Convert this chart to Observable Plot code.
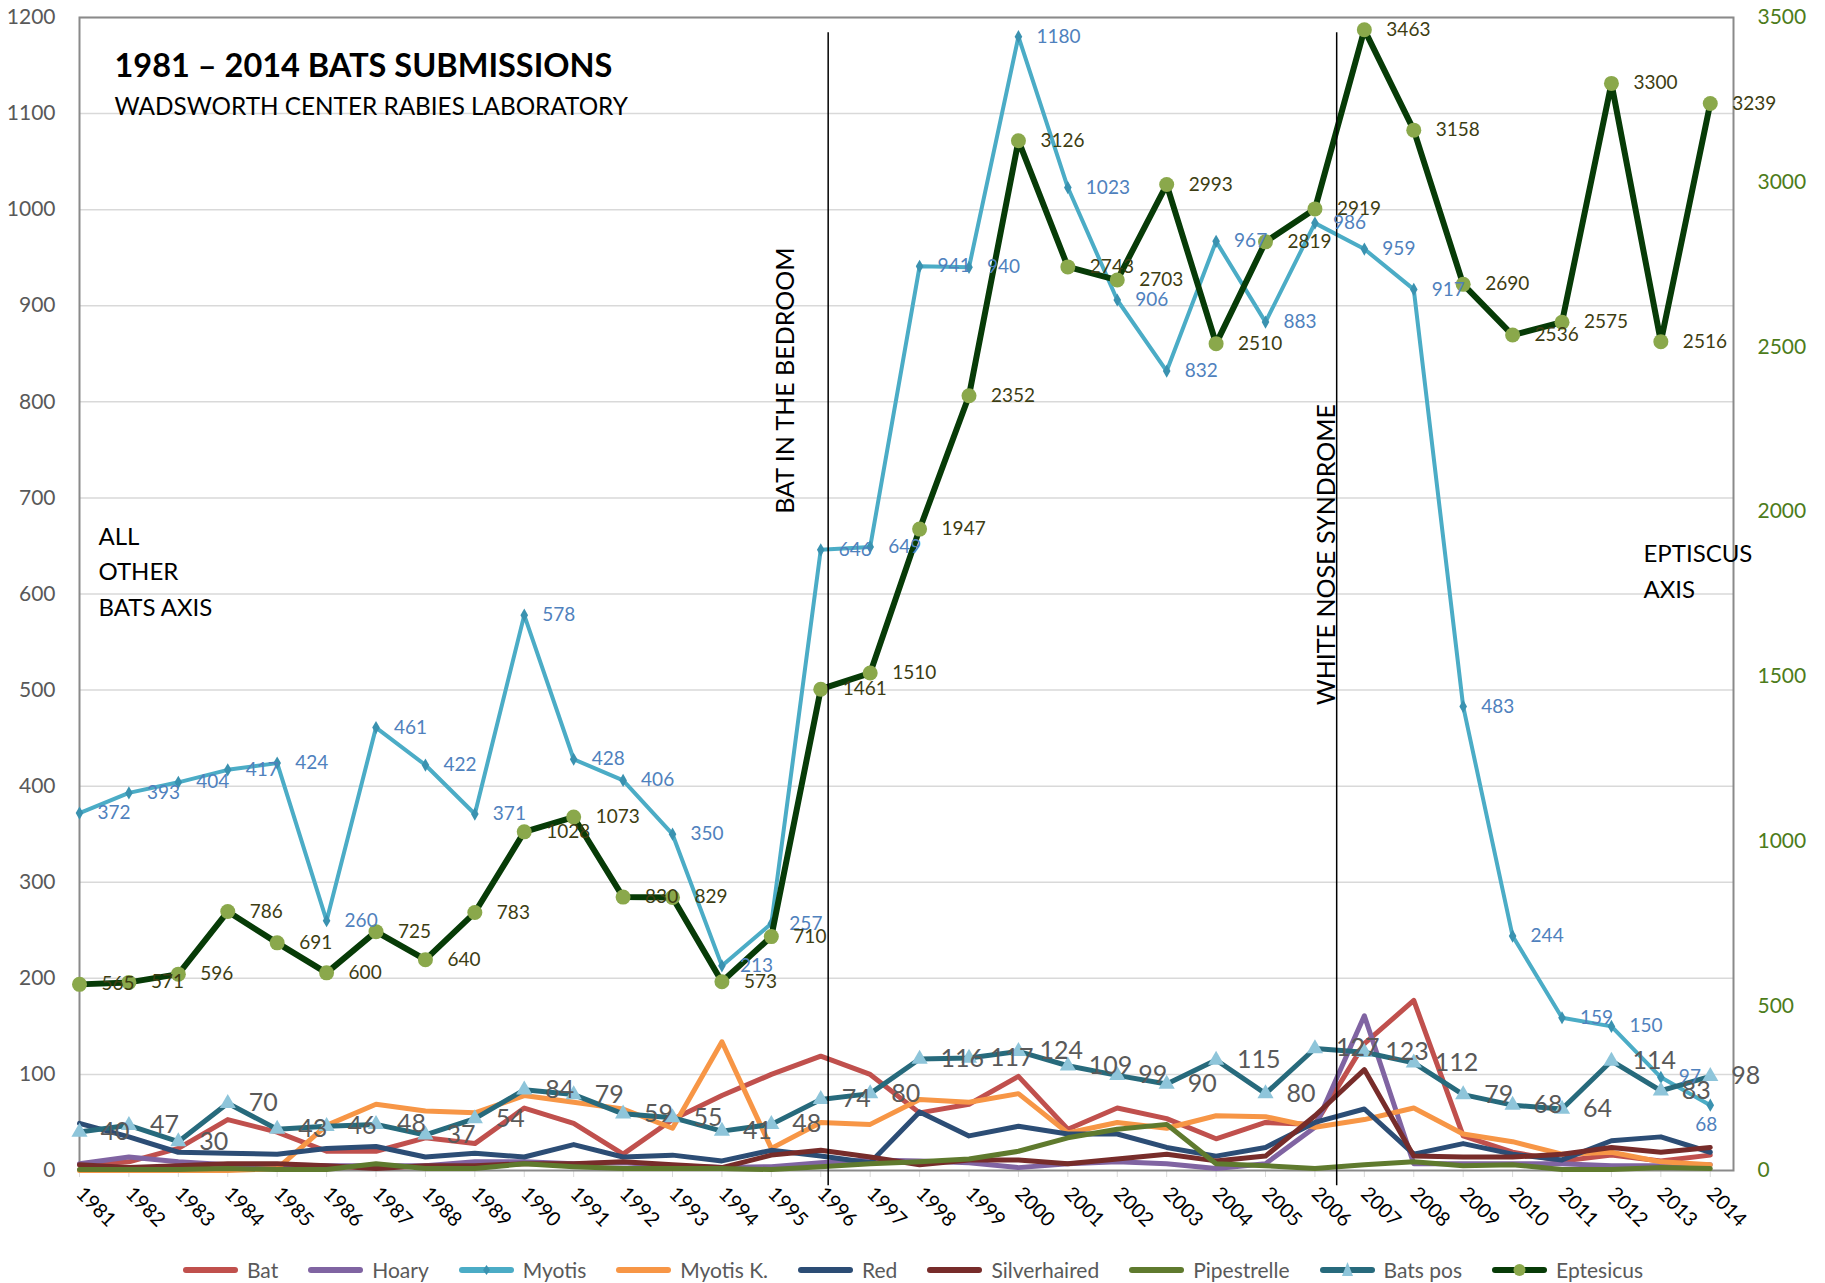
<!DOCTYPE html>
<html><head><meta charset="utf-8">
<script src="https://cdn.jsdelivr.net/npm/d3@7"></script>
<script src="https://cdn.jsdelivr.net/npm/@observablehq/plot@0.6"></script>
<style>
body{margin:0;background:#fff;font-family:Lato,sans-serif;}
#chart svg{display:block;}
#legend{display:flex;justify-content:center;align-items:center;gap:29px;height:33px;margin-top:3px;font-family:Lato,sans-serif;font-size:21px;color:#595959;}
.item{display:flex;align-items:center;gap:8px;}
</style></head><body>
<div id="chart"></div>
<div id="legend"></div>
<script>
const years = [1981,1982,1983,1984,1985,1986,1987,1988,1989,1990,1991,1992,1993,1994,1995,1996,1997,1998,1999,2000,2001,2002,2003,2004,2005,2006,2007,2008,2009,2010,2011,2012,2013,2014];
const bat         = [6,9,23,53,40,20,20,34,28,65,49,17,53,78,100,119,100,60,69,98,43,65,54,33,50,48,132,177,36,19,10,16,10,16];
const hoary       = [7,14,9,6,6,5,5,5,9,9,7,8,5,3,4,8,11,10,8,3,7,9,7,2,7,45,161,7,7,7,7,5,5,6];
const myotis      = [372,393,404,417,424,260,461,422,371,578,428,406,350,213,257,646,649,941,940,1180,1023,906,832,967,883,986,959,917,483,244,159,150,97,68];
const myotisK     = [0,0,0,0,2,47,69,62,60,78,71,64,44,134,23,50,48,74,71,80,39,50,44,57,56,45,53,65,38,30,17,19,9,6];
const red         = [49,35,19,18,17,23,25,14,18,14,27,14,16,10,21,15,8,61,36,46,38,38,24,15,24,50,64,17,28,17,11,31,35,19];
const silverhaired= [6,3,5,7,7,5,2,5,5,7,7,9,6,3,16,21,14,6,11,11,7,12,17,10,15,57,105,15,14,14,17,24,19,24];
const pipestrelle = [1,1,1,2,1,1,7,2,2,7,4,2,2,2,1,4,7,9,12,20,34,43,48,7,5,2,6,9,5,6,1,1,3,2];
const batsPos     = [40,47,30,70,43,46,48,37,54,84,79,59,55,41,48,74,80,116,117,124,109,99,90,115,80,127,123,112,79,68,64,114,83,98];
const eptesicus   = [565,571,596,786,691,600,725,640,783,1028,1073,830,829,573,710,1461,1510,1947,2352,3126,2743,2703,2993,2510,2819,2919,3463,3158,2690,2536,2575,3300,2516,3239];

const leftTicks  = [0,100,200,300,400,500,600,700,800,900,1000,1100,1200];
const rightTicks = [0,500,1000,1500,2000,2500,3000,3500];
const events = [{year:1996.15, label:"BAT IN THE BEDROOM", ty:1995.3, tv:822},
                {year:2006.44, label:"WHITE NOSE SYNDROME", ty:2006.25, tv:641}];

const k = 1200/3500; // eptesicus axis -> left axis units
const series = (vals) => years.map((y,i)=>({year:y, value:vals[i]}));

const W = 1825, H = 1250;
const marks = [
  Plot.gridY(leftTicks.slice(1), {stroke:"#d9d9d9", strokeOpacity:1, strokeWidth:1.5}),
  Plot.axisY(leftTicks, {anchor:"left", tickSize:0, tickPadding:24, fontSize:21, color:"#595959", label:null, tickFormat:d=>String(d)}),
  Plot.axisY(rightTicks.map(v=>v*k), {anchor:"right", tickSize:0, tickPadding:24, fontSize:21, color:"#4d7c1b", label:null, tickFormat:d=>String(Math.round(d/k))}),
  Plot.axisX(years, {anchor:"bottom", tickSize:7, tickPadding:13, tickRotate:45, stroke:"#d9d9d9", color:"#000", fontSize:20, label:null, tickFormat:d=>String(d)}),
  Plot.frame({stroke:"#8a8a8a", strokeWidth:2}),
];
const lineOpts = {x:"year", y:"value", strokeWidth:5, strokeLinejoin:"round", strokeLinecap:"round"};
marks.push(Plot.line(series(bat), {...lineOpts, stroke:"#C0504D"}));
marks.push(Plot.line(series(hoary), {...lineOpts, stroke:"#8064A2"}));
marks.push(Plot.line(series(myotis), {...lineOpts, stroke:"#4BACC6", strokeWidth:4}));
marks.push(Plot.dot(series(myotis), {x:"year", y:"value", symbol:"diamond", r:4, fill:"#3A92B0", stroke:"none"}));
marks.push(Plot.line(series(myotisK), {...lineOpts, stroke:"#F79646"}));
marks.push(Plot.line(series(red), {...lineOpts, stroke:"#2C4D75"}));
marks.push(Plot.line(series(silverhaired), {...lineOpts, stroke:"#772C2A"}));
marks.push(Plot.line(series(pipestrelle), {...lineOpts, stroke:"#5F7A2E"}));
marks.push(Plot.line(series(batsPos), {...lineOpts, stroke:"#276A7C"}));
marks.push(Plot.dot(series(batsPos), {x:"year", y:"value", symbol:"triangle", r:6, fill:"#8EC5DA", stroke:"none"}));
marks.push(Plot.line(series(eptesicus), {x:"year", y:d=>d.value*k, stroke:"#073B07", strokeWidth:6, strokeLinejoin:"round", strokeLinecap:"round"}));
marks.push(Plot.dot(series(eptesicus), {x:"year", y:d=>d.value*k, r:7.5, fill:"#8AA84B", stroke:"none"}));
// event lines
marks.push(Plot.ruleX(events, {x:"year", y1:-16, y2:1184, stroke:"#000", strokeWidth:1.5, clip:false}));
marks.push(Plot.text(events, {x:"ty", y:"tv", text:"label", rotate:-90, fontSize:25, fill:"#000"}));
// labels
marks.push(Plot.text(series(batsPos), {x:"year", y:"value", text:d=>String(d.value), dx:21, textAnchor:"start", fontSize:25, fill:"#595959"}));
marks.push(Plot.text(series(myotis).filter(d=>d.year!==2014), {x:"year", y:"value", text:d=>String(d.value), dx:18, textAnchor:"start", fontSize:19, fill:"#4F81BD"}));
marks.push(Plot.text(series(myotis).filter(d=>d.year===2014), {x:"year", y:"value", text:d=>String(d.value), dx:-4, dy:20, textAnchor:"middle", fontSize:19, fill:"#4F81BD"}));
marks.push(Plot.text(series(eptesicus), {x:"year", y:d=>d.value*k, text:d=>String(d.value), dx:22, textAnchor:"start", fontSize:19, fill:"#3d3d12"}));
// titles and axis notes
marks.push(Plot.text(["1981 – 2014 BATS SUBMISSIONS"], {frameAnchor:"top-left", dx:35, dy:59, lineAnchor:"bottom", textAnchor:"start", fontSize:32.5, fontWeight:"bold", fill:"#000"}));
marks.push(Plot.text(["WADSWORTH CENTER RABIES LABORATORY"], {frameAnchor:"top-left", dx:35, dy:97, lineAnchor:"bottom", textAnchor:"start", fontSize:24.3, fill:"#000"}));
marks.push(Plot.text(["ALL\nOTHER\nBATS AXIS"], {frameAnchor:"top-left", dx:19, dy:598, lineAnchor:"bottom", textAnchor:"start", fontSize:24, lineHeight:1.46, fill:"#000"}));
marks.push(Plot.text(["EPTISCUS\nAXIS"], {frameAnchor:"top-right", dx:-90, dy:580, lineAnchor:"bottom", textAnchor:"start", fontSize:24, lineHeight:1.46, fill:"#000"}));

const chart = Plot.plot({
  width: W, height: H,
  marginLeft: 79, marginRight: 92, marginTop: 17, marginBottom: H - 1170,
  x: {type:"linear", domain:[1981, 2014.47]},
  y: {domain:[0,1200]},
  style: {fontFamily:"Lato, sans-serif", background:"#fff", overflow:"visible"},
  marks
});
document.getElementById("chart").appendChild(chart);

// legend
const legendItems = [
  {name:"Bat", color:"#C0504D"},
  {name:"Hoary", color:"#8064A2"},
  {name:"Myotis", color:"#4BACC6", marker:"diamond", mcolor:"#3A92B0"},
  {name:"Myotis K.", color:"#F79646"},
  {name:"Red", color:"#2C4D75"},
  {name:"Silverhaired", color:"#772C2A"},
  {name:"Pipestrelle", color:"#5F7A2E"},
  {name:"Bats pos", color:"#276A7C", marker:"triangle", mcolor:"#8EC5DA"},
  {name:"Eptesicus", color:"#073B07", marker:"circle", mcolor:"#8AA84B"}
];
const lg = d3.select("#legend");
for (const it of legendItems) {
  const d = lg.append("div").attr("class","item");
  const s = d.append("svg").attr("width",57).attr("height",20);
  s.append("line").attr("x1",4).attr("x2",53).attr("y1",10).attr("y2",10)
    .attr("stroke",it.color).attr("stroke-width",6).attr("stroke-linecap","round");
  if (it.marker==="diamond") s.append("path").attr("d","M28.5,5 L32,10 L28.5,15 L25,10Z").attr("fill",it.mcolor);
  if (it.marker==="triangle") s.append("path").attr("d","M28.5,2 L34,16 L23,16Z").attr("fill",it.mcolor);
  if (it.marker==="circle") s.append("circle").attr("cx",28.5).attr("cy",10).attr("r",6).attr("fill",it.mcolor);
  d.append("span").text(it.name);
}
</script>
</body></html>
